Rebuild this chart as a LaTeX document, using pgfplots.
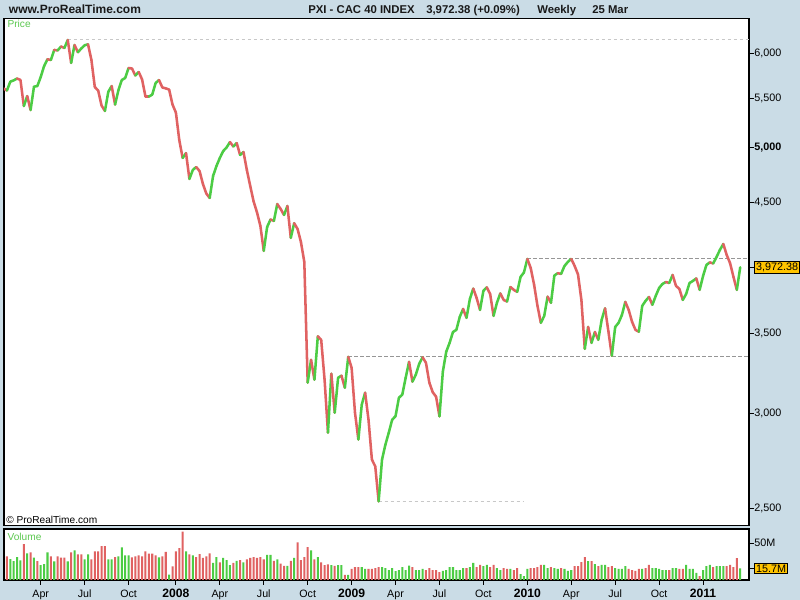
\documentclass[border=0pt]{standalone}
\usepackage{pgfplots}
\pgfplotsset{compat=1.18}
\usepackage{pgfplotstable}
\usepackage{fontspec}
\setmainfont{Liberation Sans}
\definecolor{bg}{RGB}{202,220,230}
\definecolor{upc}{RGB}{76,204,68}
\definecolor{dnc}{RGB}{224,98,98}
\definecolor{boxc}{RGB}{255,196,0}
\definecolor{lblg}{RGB}{92,200,80}
\definecolor{lightdash}{RGB}{200,200,200}
\definecolor{darkdash}{RGB}{150,150,150}
\newcommand\yr[1]{{\fontsize{9.1}{10}\selectfont\bfseries #1}}
\pgfplotstableread{
i p v c d
2 5603 nan 0 0
3 5582 32.0 0 1
4 5678 28.3 1 1
5 5692 25.6 1 1
6 5712 31.0 1 0
7 5696 26.5 1 0
8 5418 48.4 0 1
9 5523 36.1 1 0
10 5376 37.5 0 1
11 5623 30.2 1 1
12 5630 25.6 0 1
13 5729 20.1 1 1
14 5852 21.5 1 1
15 5928 37.5 1 0
16 5920 32.0 0 1
17 6035 25.1 1 0
18 6029 32.0 0 1
19 6075 30.2 0 0
20 6058 30.2 0 1
21 6152 25.1 1 0
22 5886 37.5 0 1
23 6093 40.2 1 0
24 6008 34.7 0 1
25 6052 34.7 0 1
26 6090 27.9 1 1
27 6101 34.7 1 0
28 5920 27.9 0 0
29 5619 38.8 0 0
30 5582 38.8 0 0
31 5423 45.7 0 0
32 5366 45.7 0 1
33 5569 27.9 1 1
34 5630 27.9 1 0
35 5433 31.1 0 1
36 5587 32.0 1 1
37 5696 44.3 1 1
38 5718 33.4 1 1
39 5829 33.4 1 0
40 5824 30.6 0 0
41 5745 32.0 0 1
42 5785 33.4 0 0
43 5701 32.0 0 0
44 5516 38.8 0 0
45 5516 35.6 0 1
46 5538 35.6 0 1
47 5663 33.4 0 1
48 5696 30.6 1 0
49 5614 32.0 0 0
50 5605 37.9 0 0
51 5592 7.3 1 0
52 5433 18.3 0 0
53 5350 38.8 0 0
54 5074 43.0 0 0
55 4902 65.4 0 1
56 4949 38.8 1 0
57 4708 34.7 0 1
58 4790 33.4 1 1
59 4818 31.0 0 0
60 4781 35.0 0 0
61 4663 30.0 0 0
62 4578 32.0 0 0
63 4539 36.0 0 1
64 4735 23.0 1 1
65 4827 31.0 1 1
66 4902 24.0 0 1
67 4968 30.0 1 1
68 5002 27.0 1 1
69 5055 20.0 1 0
70 5012 23.0 0 1
71 5045 26.0 1 0
72 4930 27.0 0 1
73 4959 24.0 1 0
74 4790 28.0 0 0
75 4645 30.0 0 0
76 4509 31.0 0 0
77 4415 30.0 0 0
78 4302 31.0 0 0
79 4100 28.0 0 1
80 4293 34.0 1 1
81 4355 34.0 1 0
82 4343 26.0 0 1
83 4487 28.0 1 0
84 4444 22.0 0 0
85 4393 19.0 0 1
86 4470 19.0 1 0
87 4204 26.0 0 1
88 4324 30.0 1 0
89 4277 51.0 0 0
90 4171 27.0 0 0
91 4014 31.0 0 0
92 3182 44.5 0 1
93 3325 40.0 1 0
94 3200 28.0 0 1
95 3479 31.0 1 0
96 3455 24.0 0 0
97 3200 20.0 0 0
98 2890 21.0 0 1
99 3237 20.0 1 0
100 3003 19.0 0 1
101 3212 20.0 1 1
102 3225 20.0 1 0
103 3151 7.0 0 1
104 3344 7.0 1 0
105 3274 15.0 0 0
106 3003 17.5 0 0
107 2852 17.5 0 1
108 3050 17.5 1 1
109 3121 15.0 1 0
110 2963 15.0 0 0
111 2744 15.0 0 0
112 2708 16.0 0 0
113 2532 17.5 0 1
114 2744 17.5 1 1
115 2824 16.0 1 1
116 2890 13.5 1 1
117 2963 16.0 1 1
118 2983 12.0 1 1
119 3091 13.5 1 1
120 3109 17.5 1 1
121 3212 13.5 1 1
122 3312 19.6 1 0
123 3188 17.5 0 1
124 3231 13.5 1 1
125 3299 13.5 1 1
126 3341 15.0 1 0
127 3306 13.5 0 0
128 3182 16.2 0 0
129 3124 13.5 0 0
130 3097 13.5 0 0
131 2982 10.8 0 1
132 3250 12.2 1 1
133 3377 13.5 1 1
134 3435 17.5 1 1
135 3508 17.5 1 1
136 3522 13.5 1 1
137 3611 13.5 1 1
138 3667 16.2 1 0
139 3604 16.2 0 1
140 3738 17.5 1 1
141 3814 23.0 1 0
142 3745 17.5 0 0
143 3660 20.3 0 1
144 3797 18.9 1 1
145 3823 20.3 1 0
146 3774 17.5 0 0
147 3618 20.3 0 1
148 3710 16.2 1 1
149 3778 13.5 1 0
150 3731 16.2 0 0
151 3719 14.9 0 1
152 3825 14.9 1 0
153 3804 13.5 0 0
154 3789 16.2 0 1
155 3900 8.1 1 1
156 3934 5.4 1 1
157 4037 14.9 1 0
158 3968 16.2 0 0
159 3843 16.2 0 0
160 3689 17.5 0 0
161 3570 20.3 0 1
162 3618 20.3 1 1
163 3755 16.2 1 0
164 3710 17.5 0 1
165 3911 16.2 1 1
166 3928 14.9 1 0
167 3923 16.2 0 1
168 3983 14.9 1 1
169 4014 12.2 1 1
170 4037 13.5 1 0
171 3983 18.9 0 0
172 3919 18.9 0 0
173 3731 24.3 0 0
174 3396 31.0 0 1
175 3542 25.7 1 0
176 3435 25.7 0 1
177 3508 21.6 1 0
178 3455 18.9 0 1
179 3591 20.3 1 1
180 3671 20.3 1 0
181 3511 17.5 0 0
182 3351 18.9 0 1
183 3542 16.2 1 1
184 3570 14.9 1 1
185 3625 14.9 1 1
186 3717 18.9 1 0
187 3660 14.9 0 0
188 3577 13.5 0 0
189 3522 12.2 0 0
190 3509 14.9 0 1
191 3689 14.9 1 1
192 3724 16.2 0 1
193 3753 20.3 0 0
194 3696 16.2 1 1
195 3760 16.2 1 1
196 3818 14.9 1 1
197 3848 13.5 1 1
198 3862 13.5 1 0
199 3855 13.5 0 1
200 3915 16.2 1 0
201 3833 16.2 1 0
202 3811 14.9 0 0
203 3731 14.9 0 1
204 3774 20.3 1 1
205 3855 14.9 1 1
206 3870 14.9 1 1
207 3889 9.5 1 0
208 3804 5.4 0 1
209 3907 13.5 1 1
210 3991 18.9 1 1
211 4010 20.3 1 0
212 4002 17.5 0 1
213 4052 18.9 1 1
214 4108 18.9 1 1
215 4155 18.9 1 0
216 4068 18.9 0 0
217 4004 20.3 0 0
218 3900 17.5 0 0
219 3804 29.7 0 1
220 3972.38 15.7 1 0
}\data
\begin{document}
\begin{tikzpicture}
\fill[bg] (0pt,0pt) rectangle (600pt,450pt);
\useasboundingbox (0pt,0pt) rectangle (600pt,450pt);
\begin{axis}[
  at={(3pt,55.5pt)}, anchor=south west, scale only axis,
  width=558.75pt, height=380.25pt,
  xmin=2.13, xmax=222.6, ymode=log, ymin=2415, ymax=6406,
  axis background/.style={fill=white},
  axis line style={black, line width=0.8pt},
  xtick=\empty,
  ytick={2500,3000,3500,4500,5000,5500,6000},
  yticklabels={{2,500},{3,000},{3,500},{4,500},{\textbf{5,000}},{5,500},{6,000}},
  ytick pos=right, ytick align=outside, major tick length=3.75pt,
  tick style={black, line width=0.6pt},
  yticklabel style={font=\fontsize{8.1}{9}\selectfont, inner sep=0pt, anchor=west},
  extra y ticks={3972.38}, extra y tick labels={3{,}972.38},
  extra y tick style={yticklabel style={fill=boxc, draw=black, line width=0.6pt, inner sep=1.2pt}},
  colormap={ud}{color(0)=(dnc) color(1)=(upc)},
  point meta min=0, point meta max=1,
]
\addplot[lightdash, line width=0.75pt, dash pattern=on 2.6pt off 1.9pt] coordinates {(21,6152) (222.6,6152)};
\addplot[lightdash, line width=0.75pt, dash pattern=on 2.6pt off 1.9pt] coordinates {(113,2532) (155.8,2532)};
\addplot[darkdash, line width=0.75pt, dash pattern=on 2.6pt off 1.9pt] coordinates {(157,4037) (222.6,4037)};
\addplot[darkdash, line width=0.75pt, dash pattern=on 2.6pt off 1.9pt] coordinates {(104,3344) (222.6,3344)};
\addplot[mesh, shader=flat corner, point meta=\thisrow{d}, line width=1.9pt, line cap=round] table[x=i, y=p] {\data};
\end{axis}
\begin{axis}[
  at={(3pt,15pt)}, anchor=south west, scale only axis,
  width=558.75pt, height=38.25pt,
  xmin=2.13, xmax=222.6, ymin=0, ymax=69,
  axis background/.style={fill=white},
  axis line style={black, line width=0.8pt},
  xtick={13,26,39,53,66,79,92,105,118,131,144,157,170,183,196,209},
  xticklabels={Apr,Jul,Oct,\yr{2008},Apr,Jul,Oct,\yr{2009},Apr,Jul,Oct,\yr{2010},Apr,Jul,Oct,\yr{2011}},
  xtick pos=left, xtick align=outside,
  ytick={50}, yticklabels={50M},
  ytick pos=right, ytick align=outside, major tick length=3.75pt,
  tick style={black, line width=0.6pt},
  xticklabel style={font=\fontsize{8}{9}\selectfont, inner sep=0pt, anchor=base, yshift=-9.5pt},
  yticklabel style={font=\fontsize{8.1}{9}\selectfont, inner sep=0pt, anchor=west},
  extra y ticks={15.7}, extra y tick labels={15.7M},
  extra y tick style={yticklabel style={fill=boxc, draw=black, line width=0.6pt, inner sep=1.2pt}},
]
\addplot[ybar, bar width=0.6, bar shift=0pt, fill=upc, draw=none] table[x=i, y expr=\thisrow{v}*\thisrow{c}] {\data};
\addplot[ybar, bar width=0.6, bar shift=0pt, fill=dnc, draw=none] table[x=i, y expr=\thisrow{v}*(1-\thisrow{c})] {\data};
\end{axis}
\node[anchor=base west, inner sep=0pt, font=\fontsize{9}{10}\selectfont\bfseries, text=black!90] at (6.5pt,439.5pt) {www.ProRealTime.com};
\node[anchor=base west, inner sep=0pt, font=\fontsize{8.5}{10}\selectfont\bfseries, text=black!90] at (231pt,439.5pt) {PXI - CAC 40 INDEX};
\node[anchor=base west, inner sep=0pt, font=\fontsize{8.5}{10}\selectfont\bfseries, text=black!90] at (319.5pt,439.5pt) {3,972.38 (+0.09\%)};
\node[anchor=base west, inner sep=0pt, font=\fontsize{8.5}{10}\selectfont\bfseries, text=black!90] at (402.75pt,439.5pt) {Weekly};
\node[anchor=base west, inner sep=0pt, font=\fontsize{8.5}{10}\selectfont\bfseries, text=black!90] at (444pt,439.5pt) {25 Mar};
\node[anchor=base west, inner sep=0pt, font=\fontsize{7.6}{9}\selectfont, text=lblg] at (5.5pt,429pt) {Price};
\node[anchor=base west, inner sep=0pt, font=\fontsize{7.6}{9}\selectfont, text=lblg] at (5.5pt,45pt) {Volume};
\node[anchor=base west, inner sep=0pt, font=\fontsize{7.6}{9}\selectfont] at (4.5pt,57.5pt) {© ProRealTime.com};
\end{tikzpicture}
\end{document}
